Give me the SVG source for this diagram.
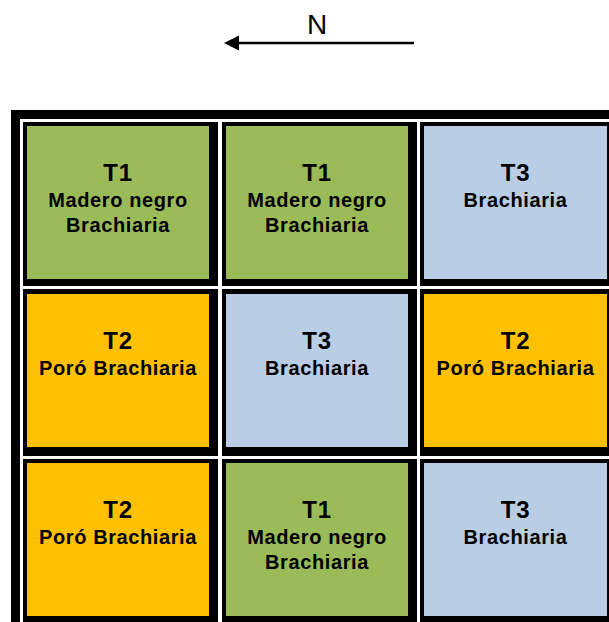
<svg xmlns="http://www.w3.org/2000/svg" width="609" height="622" viewBox="0 0 609 622">
<defs>
<style>
.frame{fill:#000}
.gap{fill:#fff}
.bd{fill:#000}
.g{fill:#9BBB59}
.o{fill:#FFC000}
.b{fill:#B9CDE5}
.t{font-family:"Liberation Sans",Arial,sans-serif;font-weight:bold;font-size:24px;text-anchor:middle;fill:#000;letter-spacing:0.8px}
.s{font-family:"Liberation Sans",Arial,sans-serif;font-weight:bold;font-size:20px;text-anchor:middle;fill:#000;letter-spacing:0.6px}
.n{font-family:"Liberation Sans",Arial,sans-serif;font-size:28px;text-anchor:middle;fill:#000}
</style>
<marker id="ah" markerWidth="8" markerHeight="8" refX="1" refY="4" orient="auto" markerUnits="userSpaceOnUse" viewBox="0 0 8 8">
<path d="M8,0 L0,4 L8,8 Z" fill="#000" transform="scale(1)"/>
</marker>
</defs>
<rect width="609" height="622" fill="#fff"/>
<g id="connectors">
<line x1="414" y1="43" x2="238" y2="43" stroke="#000" stroke-width="2.5"/>
<path d="M224,43 L239,35.5 L239,50.5 Z" fill="#000"/>
<text class="n" x="317" y="34">N</text>
</g>
<g id="frame">
<rect class="frame" x="11" y="110" width="598" height="512"/>
<rect class="gap" x="20" y="119" width="589" height="503"/>
</g>
<g id="r1c1">
<rect class="bd" x="23" y="122" width="195" height="164"/>
<rect class="g" x="27" y="126" width="182" height="153"/>
<text class="t" x="118" y="181">T1</text>
<text class="s" x="118" y="206.5">Madero negro</text>
<text class="s" x="118" y="231.5">Brachiaria</text>
</g>
<g id="r1c2">
<rect class="bd" x="222" y="122" width="195" height="164"/>
<rect class="g" x="226" y="126" width="182" height="153"/>
<text class="t" x="317" y="181">T1</text>
<text class="s" x="317" y="206.5">Madero negro</text>
<text class="s" x="317" y="231.5">Brachiaria</text>
</g>
<g id="r1c3">
<rect class="bd" x="420" y="122" width="195" height="164"/>
<rect class="b" x="424" y="126" width="183" height="153"/>
<text class="t" x="515.5" y="181">T3</text>
<text class="s" x="515.5" y="206.5">Brachiaria</text>
</g>
<g id="r2c1">
<rect class="bd" x="23" y="289" width="195" height="167"/>
<rect class="o" x="27" y="294" width="182" height="153"/>
<text class="t" x="118" y="349">T2</text>
<text class="s" x="118" y="374.5">Poró Brachiaria</text>
</g>
<g id="r2c2">
<rect class="bd" x="222" y="289" width="195" height="167"/>
<rect class="b" x="226" y="294" width="182" height="153"/>
<text class="t" x="317" y="349">T3</text>
<text class="s" x="317" y="374.5">Brachiaria</text>
</g>
<g id="r2c3">
<rect class="bd" x="420" y="289" width="195" height="167"/>
<rect class="o" x="424" y="294" width="183" height="153"/>
<text class="t" x="515.5" y="349">T2</text>
<text class="s" x="515.5" y="374.5">Poró Brachiaria</text>
</g>
<g id="r3c1">
<rect class="bd" x="23" y="459" width="195" height="170"/>
<rect class="o" x="27" y="463" width="182" height="153"/>
<text class="t" x="118" y="518">T2</text>
<text class="s" x="118" y="543.5">Poró Brachiaria</text>
</g>
<g id="r3c2">
<rect class="bd" x="222" y="459" width="195" height="170"/>
<rect class="g" x="226" y="463" width="182" height="153"/>
<text class="t" x="317" y="518">T1</text>
<text class="s" x="317" y="543.5">Madero negro</text>
<text class="s" x="317" y="568.5">Brachiaria</text>
</g>
<g id="r3c3">
<rect class="bd" x="420" y="459" width="195" height="170"/>
<rect class="b" x="424" y="463" width="183" height="153"/>
<text class="t" x="515.5" y="518">T3</text>
<text class="s" x="515.5" y="543.5">Brachiaria</text>
</g>
</svg>
